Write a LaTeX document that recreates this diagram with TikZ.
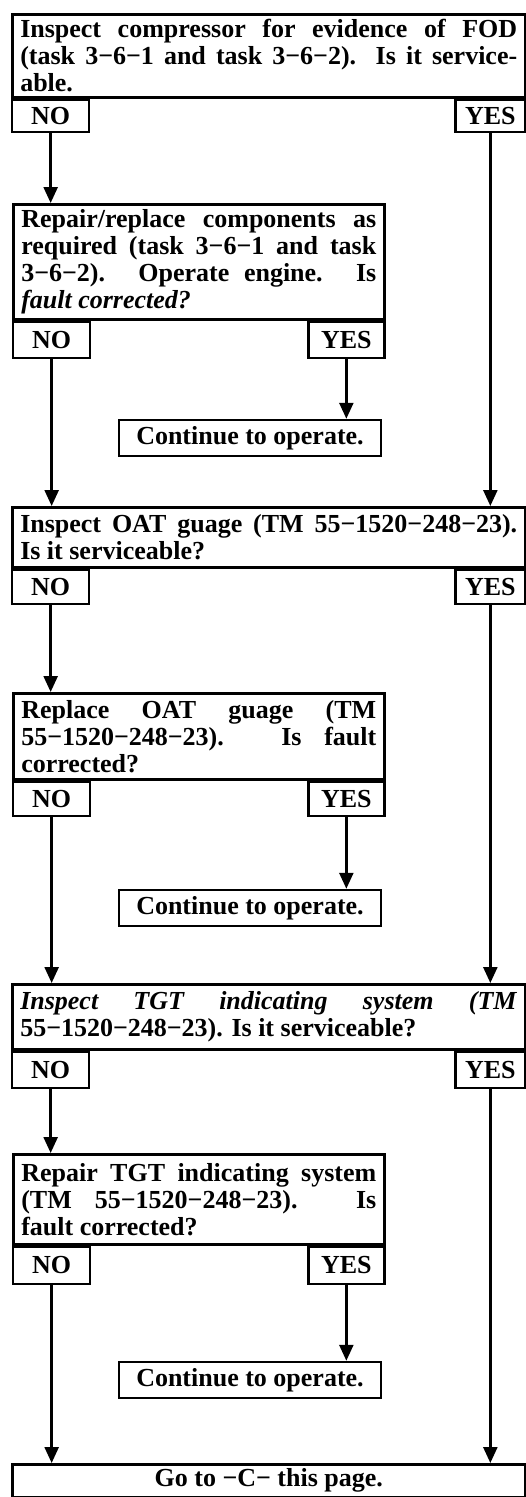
\documentclass[tikz,border=0pt]{standalone}
\usepackage{fontspec}
\setmainfont{Liberation Serif}
\usetikzlibrary{arrows.meta}
\tolerance=10000
\hyphenpenalty=10000
\begin{document}
\begin{tikzpicture}[x=1pt,y=-1pt,
  txt/.style={font=\fontsize{26}{27}\selectfont\bfseries},
  qbig/.style={draw, line width=2.5pt, anchor=north west, text width=497pt,
    inner xsep=8pt, inner ysep=1pt, align=justify, txt},
  qsmall/.style={qbig, text width=355pt},
  tabbox/.style={draw, line width=2.3pt, minimum height=34pt, inner sep=0pt, txt},
  notab/.style={tabbox, anchor=north west, minimum width=77pt},
  yestab/.style={tabbox, anchor=north east, minimum width=70pt},
  yestabs/.style={tabbox, anchor=north east, minimum width=76pt},
  contbox/.style={draw, line width=2.5pt, minimum width=262pt, minimum height=36pt,
    inner sep=0pt, txt},
  arr/.style={line width=2.5pt, -{Triangle[width=14pt,length=16pt]}}
]
\useasboundingbox (0,0) rectangle (525,1497);

% first check: compressor
\node[qbig, minimum height=83pt] (q1) at (11,13)
  {Inspect compressor for evidence of FOD\linebreak
   (task 3−6−1 and task 3−6−2). Is it service-\linebreak able.};
\node[notab, minimum height=32pt] (q1no) at (q1.south west) {NO};
\node[yestab, minimum height=32pt] (q1yes) at (q1.south east) {YES};

% repair components
\node[qsmall, minimum height=115pt] (q2) at (12,203)
  {Repair/replace components as\linebreak
   required (task 3−6−1 and task\linebreak
   3−6−2). Operate engine. Is\linebreak
   \textit{fault corrected?}};
\node[notab, minimum height=36pt] (q2no) at (q2.south west) {NO};
\node[yestabs, minimum height=36pt] (q2yes) at (q2.south east) {YES};
\node[contbox] (c1) at (250,438) {Continue to operate.};

% OAT gauge
\node[qbig, minimum height=60pt] (q3) at (11,506)
  {Inspect OAT guage (TM 55−1520−248−23).\linebreak
   Is it serviceable?};
\node[notab] (q3no) at (q3.south west) {NO};
\node[yestab] (q3yes) at (q3.south east) {YES};

\node[qsmall, minimum height=86pt] (q4) at (12,692)
  {Replace OAT guage (TM\linebreak
   55−1520−248−23). Is fault\linebreak
   corrected?};
\node[notab] (q4no) at (q4.south west) {NO};
\node[yestabs] (q4yes) at (q4.south east) {YES};
\node[contbox] (c2) at (250,908) {Continue to operate.};

% TGT indicating system
\node[qbig, minimum height=65pt] (q5) at (11,983)
  {\textit{Inspect TGT indicating system (TM}\linebreak
   55−1520−248−23). Is it serviceable?};
\node[notab, minimum height=36pt] (q5no) at (q5.south west) {NO};
\node[yestab, minimum height=36pt] (q5yes) at (q5.south east) {YES};

\node[qsmall, minimum height=90pt] (q6) at (12,1153)
  {Repair TGT indicating system\linebreak
   (TM 55−1520−248−23). Is\linebreak
   fault corrected?};
\node[notab, minimum height=37pt] (q6no) at (q6.south west) {NO};
\node[yestabs, minimum height=37pt] (q6yes) at (q6.south east) {YES};
\node[contbox] (c3) at (250,1380) {Continue to operate.};

\node[draw, line width=2.5pt, anchor=north west, minimum width=513pt, minimum height=33pt,
  inner sep=0pt, txt] (go) at (11,1463) {Go to −C− this page.};

% connectors
\draw[arr] (q1no.south) -- (q1no.south |- q2.north);
\draw[arr] (q1yes.south) -- (q1yes.south |- q3.north);
\draw[arr] (q2no.south) -- (q2no.south |- q3.north);
\draw[arr] (q2yes.south) -- (q2yes.south |- c1.north);
\draw[arr] (q3no.south) -- (q3no.south |- q4.north);
\draw[arr] (q3yes.south) -- (q3yes.south |- q5.north);
\draw[arr] (q4no.south) -- (q4no.south |- q5.north);
\draw[arr] (q4yes.south) -- (q4yes.south |- c2.north);
\draw[arr] (q5no.south) -- (q5no.south |- q6.north);
\draw[arr] (q5yes.south) -- (q5yes.south |- go.north);
\draw[arr] (q6no.south) -- (q6no.south |- go.north);
\draw[arr] (q6yes.south) -- (q6yes.south |- c3.north);
\end{tikzpicture}
\end{document}
